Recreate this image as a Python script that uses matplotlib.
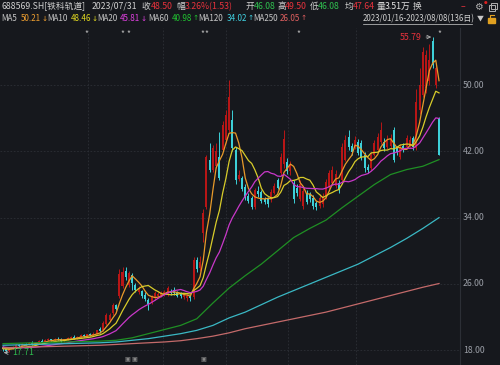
import matplotlib
matplotlib.use("Agg")
import matplotlib.pyplot as plt
import numpy as np
import pandas as pd

plt.rcParams["font.family"] = ["Noto Sans CJK SC", "DejaVu Sans"]

# daily candles 2023/01/16 - 2023/08/08 (136 days)
opens = [
    18.4, 18.1, 17.9, 18.2, 18.4, 18.6, 18.5, 18.8, 18.7, 18.9,
    18.7, 18.9, 19.1, 19.0, 19.2, 19.3, 19.2, 19.4, 19.3, 19.1,
    19.3, 19.5, 19.6, 19.4, 19.6, 19.8, 19.7, 19.9, 19.8, 20.0,
    20.6, 20.4, 21.2, 21.6, 22.5, 23.4, 24.5, 25.8, 27.6, 25.9,
    27.1, 25.9, 25.0, 25.1, 24.7, 24.1, 23.8, 24.3, 24.5, 24.6,
    24.8, 24.8, 25.2, 25.3, 25.0, 24.9, 24.4, 24.3, 24.5, 24.4,
    28.9, 27.9, 32.2, 35.3, 41.0, 39.7, 40.2, 41.3, 42.2, 43.4,
    44.6, 45.8, 42.2, 38.7, 38.8, 37.7, 36.6, 36.4, 35.3, 37.2,
    37.1, 36.3, 36.3, 36.2, 37.0, 38.5, 39.4, 40.5, 40.7, 39.6,
    38.2, 37.6, 36.2, 35.4, 37.0, 36.8, 36.4, 35.8, 35.4, 35.6,
    36.5, 37.7, 38.2, 37.8, 38.2, 38.5, 41.0, 43.7, 42.6, 42.6,
    43.1, 43.0, 41.6, 40.1, 40.0, 41.6, 42.2, 43.1, 43.1, 42.5,
    42.6, 44.6, 42.4, 41.3, 42.7, 42.5, 42.7, 43.6, 42.4, 47.0,
    48.8, 49.6, 50.5, 55.3, 50.0, 46.0,
]
closes = [
    18.1, 17.9, 18.2, 18.4, 18.6, 18.5, 18.8, 18.7, 18.9, 18.7,
    18.9, 19.1, 19.0, 19.2, 19.3, 19.2, 19.4, 19.3, 19.1, 19.3,
    19.5, 19.6, 19.4, 19.6, 19.8, 19.7, 19.9, 19.8, 20.0, 20.4,
    20.3, 21.3, 22.2, 22.3, 23.4, 23.0, 27.2, 27.5, 26.8, 27.3,
    26.1, 25.3, 25.5, 24.6, 24.2, 23.6, 24.5, 24.9, 24.8, 24.9,
    25.0, 25.5, 24.9, 24.9, 24.6, 24.5, 24.7, 24.6, 24.3, 28.9,
    27.8, 28.7, 34.6, 41.3, 39.8, 42.4, 42.0, 38.8, 45.2, 46.4,
    48.5, 42.4, 38.5, 39.2, 37.5, 36.4, 36.0, 35.3, 37.3, 36.8,
    36.0, 35.9, 35.6, 37.1, 37.8, 37.6, 41.3, 43.5, 39.6, 40.3,
    36.2, 37.0, 38.0, 37.2, 35.9, 36.2, 35.4, 35.3, 36.4, 36.6,
    38.3, 39.4, 39.7, 39.3, 37.3, 42.5, 43.4, 42.5, 41.9, 43.4,
    41.8, 41.3, 40.0, 39.7, 41.6, 43.0, 43.7, 44.6, 42.4, 43.4,
    43.5, 41.0, 41.9, 42.5, 42.2, 43.6, 43.4, 42.5, 48.0, 50.0,
    54.0, 53.6, 53.0, 52.4, 52.0, 41.6,
]
highs = [
    18.5, 18.2, 18.3, 18.5, 18.7, 18.8, 18.9, 18.9, 19.0, 19.1,
    19.0, 19.2, 19.3, 19.3, 19.5, 19.4, 19.5, 19.6, 19.5, 19.4,
    19.6, 19.7, 19.8, 19.7, 19.9, 20.0, 20.0, 20.1, 20.2, 20.5,
    20.8, 21.5, 22.5, 22.5, 23.7, 23.6, 27.8, 28.0, 28.0, 27.6,
    27.3, 26.1, 25.8, 25.3, 25.0, 24.3, 24.7, 25.1, 25.0, 25.1,
    25.3, 25.8, 25.4, 25.6, 25.2, 25.0, 24.9, 24.8, 24.7, 29.2,
    29.2, 29.4, 35.0, 41.6, 43.0, 42.8, 43.0, 44.3, 45.6, 47.0,
    50.6, 47.0, 42.5, 39.8, 39.0, 38.0, 37.0, 36.6, 37.6, 37.8,
    37.3, 36.5, 36.5, 37.4, 38.2, 38.8, 41.8, 44.6, 41.2, 40.8,
    38.6, 38.0, 38.5, 37.6, 37.3, 37.1, 36.7, 36.0, 36.8, 37.0,
    38.7, 39.8, 40.2, 39.8, 38.5, 43.0, 44.0, 44.6, 43.0, 43.8,
    43.5, 43.4, 41.9, 40.5, 41.9, 43.4, 44.2, 45.5, 43.6, 44.0,
    44.1, 44.9, 42.7, 42.9, 43.0, 44.0, 43.8, 43.9, 49.5, 52.0,
    54.6, 54.2, 55.0, 55.79, 52.3, 46.1,
]
lows = [
    17.9, 17.71, 17.8, 18.1, 18.3, 18.4, 18.4, 18.6, 18.6, 18.6,
    18.6, 18.8, 18.9, 18.9, 19.1, 19.1, 19.1, 19.2, 19.0, 19.0,
    19.2, 19.4, 19.3, 19.3, 19.5, 19.6, 19.6, 19.7, 19.7, 19.9,
    20.1, 20.3, 21.0, 21.5, 22.3, 22.8, 24.3, 25.5, 26.5, 25.6,
    25.3, 25.0, 24.8, 24.3, 24.0, 22.9, 23.6, 24.1, 24.3, 24.4,
    24.6, 24.6, 24.7, 24.7, 24.4, 24.3, 24.2, 24.0, 24.0, 24.2,
    27.5, 27.6, 31.1, 35.0, 39.5, 39.5, 40.0, 38.5, 42.0, 43.0,
    44.3, 42.0, 38.0, 38.4, 37.2, 36.1, 35.8, 35.0, 35.1, 36.5,
    35.8, 35.6, 35.3, 35.9, 36.8, 37.4, 39.1, 40.0, 39.3, 39.2,
    35.8, 36.6, 36.0, 35.0, 35.6, 35.9, 35.1, 34.9, 35.2, 35.3,
    36.3, 37.5, 38.0, 37.6, 37.0, 38.3, 40.8, 42.2, 41.6, 42.3,
    41.5, 41.0, 39.5, 39.4, 39.8, 41.4, 42.0, 42.9, 42.1, 42.3,
    42.4, 40.7, 41.6, 41.1, 41.9, 42.3, 42.5, 42.2, 42.2, 46.5,
    48.5, 49.0, 50.0, 52.0, 49.6, 41.5,
]
# closes of the 19 sessions before the window, for the short averages
pre_closes = [18.9, 18.8, 18.7, 18.8, 18.6, 18.5, 18.6, 18.4, 18.3, 18.4,
              18.2, 18.3, 18.1, 18.2, 18.0, 18.1, 18.3, 18.2, 18.4]

# long averages read every 5th session (index 0, 5, ..., 135)
ma_long_idx = list(range(0, 136, 5))
ma60 = [18.8, 18.85, 18.9, 18.95, 19.0, 19.05, 19.1, 19.2, 19.5, 20.0,
        20.5, 21.0, 21.8, 23.7, 25.5, 27.0, 28.4, 30.0, 31.6, 32.7,
        33.7, 35.2, 36.6, 38.0, 39.2, 39.8, 40.2, 41.0]
ma120 = [18.6, 18.65, 18.7, 18.75, 18.8, 18.85, 18.9, 19.0, 19.2, 19.4,
         19.7, 20.0, 20.4, 21.0, 21.9, 22.6, 23.5, 24.4, 25.2, 26.0,
         26.8, 27.6, 28.4, 29.4, 30.4, 31.5, 32.7, 34.0]
ma250 = [18.3, 18.35, 18.4, 18.45, 18.5, 18.55, 18.6, 18.7, 18.8, 18.9,
         19.0, 19.15, 19.4, 19.7, 20.1, 20.6, 21.0, 21.4, 21.8, 22.2,
         22.6, 23.1, 23.6, 24.1, 24.6, 25.1, 25.6, 26.05]

# legend values shown in the header
ma_names = ["MA5", "MA10", "MA20", "MA60", "MA120", "MA250"]
ma_values = ["50.21", "48.46", "45.81", "40.98", "34.02", "26.05"]
ma_trend = ["↓", "↓", "↓", "↑", "↑", "↑"]

price_ticks = [18, 26, 34, 42, 50]
month_starts = [26.3, 49.5, 69, 88.2, 109.3]

BG = "#16181d"
GRID = "#2c2f36"
RED = "#e8323c"
GREEN = "#2fbf4f"
UP = "#b81616"
DOWN = "#3dd0d8"
MA_COLORS = {5: "#e89a2a", 10: "#d8cc2a", 20: "#c838c8"}
LEGEND_COLORS = ["#f0a030", "#e0d820", "#e040e0", "#20c030", "#40d0e0", "#e06060"]
W, H = 500, 365


def fxy(x, y):
    return x / W, 1 - y / H


fig = plt.figure(figsize=(5, 3.65), dpi=100, facecolor=BG)
ax = fig.add_axes([0, 0, 460 / W, 337 / H], facecolor=BG)
ax.set_xlim(-0.93, 141.5)
ax.set_ylim(16.22, 56.88)

for p in price_ticks:
    ax.axhline(p, color=GRID, lw=0.6, ls=(0, (2, 2)), zorder=0)
for m in month_starts:
    ax.axvline(m, color=GRID, lw=0.6, ls=(0, (2, 2)), zorder=0)

x = np.arange(len(closes))
o = np.array(opens)
c = np.array(closes)
up = c >= o
colors = np.where(up, UP, DOWN)
ax.vlines(x, lows, highs, colors=colors, lw=0.7, zorder=2)
body = np.maximum(np.abs(c - o), 0.08)
ax.bar(x, body, bottom=np.minimum(o, c), width=0.62, color=colors, zorder=2)

allc = pd.Series(pre_closes + closes)
for n, col in MA_COLORS.items():
    ma = allc.rolling(n).mean().to_numpy()[len(pre_closes):]
    ax.plot(x, ma, color=col, lw=0.9, zorder=3)
ax.plot(ma_long_idx, ma60, color="#1f8f24", lw=0.9, zorder=3)
ax.plot(ma_long_idx, ma120, color="#3ab8c4", lw=0.9, zorder=3)
ax.plot(ma_long_idx, ma250, color="#c46a6a", lw=0.9, zorder=3)

hi_i = int(np.argmax(highs))
lo_i = int(np.argmin(lows))
ax.annotate(f"{highs[hi_i]:.2f}", xy=(hi_i - 0.4, highs[hi_i]), xytext=(hi_i - 3.3, highs[hi_i]),
            ha="right", va="center", color=RED, fontsize=6.3,
            arrowprops=dict(arrowstyle="->", color="#b0b0b0", lw=0.6, shrinkA=1, shrinkB=0))
ax.annotate(f"{lows[lo_i]:.2f}", xy=(lo_i - 0.8, lows[lo_i]), xytext=(lo_i + 1.9, lows[lo_i]),
            ha="left", va="center", color=GREEN, fontsize=6.3,
            arrowprops=dict(arrowstyle="->", color="#b0b0b0", lw=0.6, shrinkA=1, shrinkB=0))

for s in ax.spines.values():
    s.set_visible(False)
ax.spines["right"].set_visible(True)
ax.spines["right"].set_color(GRID)
ax.set_xticks([])
ax.set_yticks([])

# right price scale
for p in price_ticks:
    yp = 85 + (50 - p) * 8.29
    fig.text(*fxy(463, yp), f"{p:.2f}", color="#9a9ea6", fontsize=6.3, va="center")

# event markers
for sx in [86, 122, 128, 202, 206, 298, 439]:
    fig.text(*fxy(sx, 34), "*", color="#b8b8b8", fontsize=6, ha="center", va="center")
for bx in [127, 134, 203]:
    fig.text(*fxy(bx, 360), "▣", color="#8a8a8a", fontsize=4.5, ha="center", va="center",
             family="DejaVu Sans")

# header row 1
FS1 = 6.3
row1 = [
    (2, "688569.SH[铁科轨道]", "#d0d0d0"), (92, "2023/07/31", "#d0d0d0"),
    (141, "收", "#d0d0d0"), (151, "48.50", RED),
    (176, "幅", "#d0d0d0"), (185, "3.26%(1.53)", RED),
    (245, "开", "#d0d0d0"), (254, "46.08", GREEN),
    (277, "高", "#d0d0d0"), (285, "49.50", RED),
    (310, "低", "#d0d0d0"), (318, "46.08", GREEN),
    (345, "均", "#d0d0d0"), (353, "47.64", RED),
    (377, "量", "#d0d0d0"), (385, "3.51万", "#e8e8e8"),
    (413, "换", "#d0d0d0"),
]
for px, t, col in row1:
    fig.text(*fxy(px, 6.5), t, color=col, fontsize=FS1, va="center")
fig.text(*fxy(461, 7), "–", color=RED, fontsize=FS1, va="center")
fig.text(*fxy(474, 6.5), "⚙", color="#b0b0b0", fontsize=7, va="center", family="DejaVu Sans")
fig.text(*fxy(484, 3), "●", color="#e02020", fontsize=3, va="center", family="DejaVu Sans")
# window icon
fig.add_artist(plt.Rectangle((489 / W, 1 - 11 / H), 6 / W, 6 / H, fill=False, ec="#b0b0b0",
                             lw=0.7, transform=fig.transFigure))
fig.add_artist(plt.Rectangle((491 / W, 1 - 9 / H), 6 / W, 6 / H, fill=False, ec="#b0b0b0",
                             lw=0.7, transform=fig.transFigure))

# header row 2: moving average legend
FS2 = 5.8
name_x = [1, 47, 97, 148, 198, 253]
value_x = [21, 71, 120, 172, 227, 280]
for nx, vx, name, val, tr, col in zip(name_x, value_x, ma_names, ma_values, ma_trend, LEGEND_COLORS):
    fig.text(*fxy(nx, 18.5), name, color="#c8c8c8", fontsize=FS2, va="center")
    fig.text(*fxy(vx, 18.5), val, color=col, fontsize=FS2, va="center")
    fig.text(*fxy(vx + 20.5, 18.5), tr, color=col, fontsize=5.2, va="center",
             family="DejaVu Sans")
fig.text(*fxy(363, 18.5), "2023/01/16-2023/08/08(136日)", color="#d0d0d0", fontsize=5.7,
         va="center")
fig.add_artist(plt.Line2D([363 / W, 472 / W], [1 - 24 / H, 1 - 24 / H],
                          color="#d0d0d0", lw=0.5, transform=fig.transFigure))
fig.text(*fxy(477, 18.5), "▼", color="#c8c8c8", fontsize=5, va="center")
fig.add_artist(plt.Rectangle((488 / W, 1 - 23 / H), 7 / W, 5 / H, color="#e0a020",
                             transform=fig.transFigure))
fig.add_artist(plt.Line2D([489.5 / W, 489.5 / W, 493.5 / W], [1 - 18 / H, 1 - 14.5 / H, 1 - 14.5 / H],
                          color="#e0a020", lw=0.8, transform=fig.transFigure))

fig.savefig("out.png", dpi=100, facecolor=BG)
